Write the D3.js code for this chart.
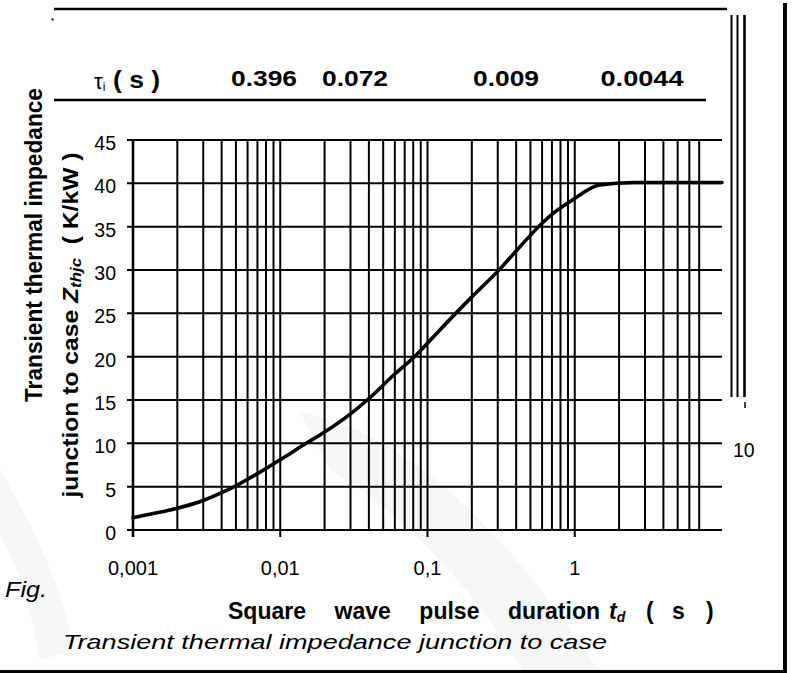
<!DOCTYPE html>
<html>
<head>
<meta charset="utf-8">
<script src="https://cdn.jsdelivr.net/npm/d3@7"></script>
<style>
  html, body { margin: 0; padding: 0; background: #fff; }
  svg { display: block; font-family: "Liberation Sans", Arial, Helvetica, sans-serif; }
</style>
</head>
<body>
<svg id="chart" width="793" height="673"></svg>
<script>
// Square wave pulse duration t_d (s) and transient thermal impedance Zthjc (K/kW)
const pulseDuration = [0.001, 0.0012, 0.002, 0.003, 0.004, 0.005, 0.007, 0.01, 0.015, 0.02,
                       0.03, 0.039, 0.06, 0.084, 0.12, 0.2, 0.31, 0.42, 0.6, 0.71, 0.97, 1.47, 2.5, 10];
const impedance = [1.4, 1.7, 2.5, 3.4, 4.3, 5.1, 6.5, 8.1, 10.0, 11.3,
                   13.4, 15.0, 18.0, 20.2, 23.0, 26.9, 30.1, 32.6, 35.4, 36.5, 38.1, 39.8, 40.1, 40.1];

// Axis ticks
const yTicks = [0, 5, 10, 15, 20, 25, 30, 35, 40, 45];
const xDecades = [0.001, 0.01, 0.1, 1];
const xTickLabels = ["0,001", "0,01", "0,1", "1"];

// Thermal time constants tau_i (s)
const tauValues = ["0.396", "0.072", "0.009", "0.0044"];

const svg = d3.select("#chart");
const H = 673;

const x = d3.scaleLog().domain([0.001, 10]).range([133, 722]);
const y = d3.scaleLinear().domain([0, 45]).range([530, 140]);

// faint background watermark swooshes
const wm = svg.append("g").attr("fill", "#f5f6f6").attr("stroke", "none");
wm.append("path").attr("d",
  "M300,412 C400,430 500,520 600,673 L525,673 C470,585 410,520 330,470 Z");
wm.append("path").attr("d", "M0,470 C30,520 60,580 75,650 L40,660 C30,600 15,560 0,535 Z");

// horizontal grid lines (start a tick length left of the axis)
svg.append("g").selectAll("line").data(yTicks).join("line")
  .attr("x1", x(0.001) - 6).attr("x2", x(10))
  .attr("y1", d => y(d)).attr("y2", d => y(d))
  .attr("stroke", "#000").attr("stroke-width", 2);

// vertical grid lines on the log scale (last decade drawn up to 7 s)
const vLines = x.ticks().filter(v => v < 7.5);
svg.append("g").selectAll("line").data(vLines).join("line")
  .attr("x1", d => x(d)).attr("x2", d => x(d))
  .attr("y1", y(45))
  .attr("y2", d => xDecades.some(v => Math.abs(v - d) / v < 1e-6) ? y(0) + 7 : y(0))
  .attr("stroke", "#000")
  .attr("stroke-width", d => d === 0.001 ? 2.6 : 2);

// y tick labels
svg.append("g").selectAll("text").data(yTicks).join("text")
  .attr("x", 116).attr("y", d => y(d) + 3)
  .attr("text-anchor", "end").attr("dominant-baseline", "central")
  .attr("font-size", 19.5).attr("fill", "#000")
  .text(d => d);

// x tick labels
svg.append("g").selectAll("text").data(xDecades).join("text")
  .attr("x", d => x(d)).attr("y", 575)
  .attr("text-anchor", "middle").attr("font-size", 20).attr("fill", "#000")
  .text((d, i) => xTickLabels[i]);

// impedance curve
const line = d3.line()
  .x(d => x(d[0])).y(d => y(d[1]))
  .curve(d3.curveMonotoneX);
svg.append("path")
  .datum(pulseDuration.map((t, i) => [t, impedance[i]]))
  .attr("d", line)
  .attr("fill", "none").attr("stroke", "#000")
  .attr("stroke-width", 3.6).attr("stroke-linejoin", "round").attr("stroke-linecap", "round");

// y axis titles
svg.append("text")
  .attr("transform", "translate(42,245) rotate(-90)")
  .attr("text-anchor", "middle").attr("font-size", 23).attr("font-weight", "bold")
  .attr("textLength", 314).attr("lengthAdjust", "spacingAndGlyphs")
  .text("Transient thermal impedance");

const yt2 = svg.append("text")
  .attr("transform", "translate(78,325) rotate(-90)")
  .attr("text-anchor", "middle").attr("font-size", 22).attr("font-weight", "bold")
  .attr("textLength", 345).attr("lengthAdjust", "spacingAndGlyphs")
  .attr("xml:space", "preserve");
yt2.append("tspan").text("junction to case ");
yt2.append("tspan").attr("font-style", "italic").text("Z");
yt2.append("tspan").attr("font-style", "italic").attr("font-size", 15).attr("dy", 3).text("thjc");
yt2.append("tspan").attr("dy", -3).text("  ( K/kW )");

// tau header row
svg.append("line").attr("x1", 54).attr("x2", 727).attr("y1", 9).attr("y2", 9)
  .attr("stroke", "#000").attr("stroke-width", 2.6);
svg.append("rect").attr("x", 51.5).attr("y", 18.5).attr("width", 2).attr("height", 2).attr("fill", "#000");
svg.append("line").attr("x1", 54).attr("x2", 706).attr("y1", 100).attr("y2", 100)
  .attr("stroke", "#000").attr("stroke-width", 2.6);

const tauSym = svg.append("text").attr("x", 94).attr("y", 89).attr("font-size", 22);
tauSym.append("tspan").text("τ");
tauSym.append("tspan").attr("font-size", 12).attr("dy", 2).text("i");
svg.append("text").attr("x", 113).attr("y", 88)
  .attr("font-size", 23).attr("font-weight", "bold")
  .attr("textLength", 47).attr("lengthAdjust", "spacingAndGlyphs")
  .attr("xml:space", "preserve").text("( s )");

const tauColumnX = [264, 355, 506, 642];
svg.append("g").selectAll("text").data(tauValues).join("text")
  .attr("x", (d, i) => tauColumnX[i]).attr("y", 86)
  .attr("text-anchor", "middle").attr("font-size", 22).attr("font-weight", "bold")
  .attr("textLength", d => d.length === 6 ? 83 : 66).attr("lengthAdjust", "spacingAndGlyphs")
  .text(d => d);

// right-hand scale fragment
svg.append("g").selectAll("line").data([731.5, 737.5, 744.5]).join("line")
  .attr("x1", d => d).attr("x2", d => d).attr("y1", 15).attr("y2", 397)
  .attr("stroke", "#000").attr("stroke-width", (d, i) => i === 2 ? 2.6 : 2);
svg.append("line").attr("x1", 745).attr("x2", 745).attr("y1", 402).attr("y2", 408)
  .attr("stroke", "#000").attr("stroke-width", 1.5);
svg.append("text").attr("x", 733).attr("y", y(10) + 7).attr("dominant-baseline", "central")
  .attr("font-size", 19.5).text("10");

// x axis title: words spread evenly between the left edge and "duration" end
const xTitleWords = ["Square", "wave", "pulse", "duration"];
const xt = svg.append("g").attr("font-size", 23).attr("font-weight", "bold");
const wordNodes = xt.selectAll("text.w").data(xTitleWords).join("text")
  .attr("class", "w").attr("y", 619).text(d => d);
const widths = wordNodes.nodes().map(n => n.getComputedTextLength());
const startX = 228, endX = 600;
const gap = (endX - startX - d3.sum(widths)) / (xTitleWords.length - 1);
let cx = startX;
wordNodes.attr("x", (d, i) => { const v = cx; cx += widths[i] + gap; return v; });
const td = xt.append("text").attr("x", 609).attr("y", 619);
td.append("tspan").attr("font-style", "italic").text("t");
td.append("tspan").attr("font-style", "italic").attr("font-size", 14).attr("dy", 3).text("d");
xt.append("text").attr("x", 646).attr("y", 619).text("(");
xt.append("text").attr("x", 672).attr("y", 619).text("s");
xt.append("text").attr("x", 706).attr("y", 619).text(")");

// figure caption
svg.append("text").attr("x", 5).attr("y", 597)
  .attr("font-size", 22).attr("font-style", "italic")
  .attr("textLength", 42).attr("lengthAdjust", "spacingAndGlyphs")
  .text("Fig.");
svg.append("text").attr("x", 63).attr("y", 649)
  .attr("font-size", 21).attr("font-style", "italic")
  .attr("textLength", 544).attr("lengthAdjust", "spacingAndGlyphs")
  .text("Transient thermal impedance junction to case");

// page frame: thick right rule and bottom rule
svg.append("line").attr("x1", 785).attr("x2", 785).attr("y1", 3).attr("y2", H)
  .attr("stroke", "#000").attr("stroke-width", 4);
svg.append("line").attr("x1", 0).attr("x2", 787).attr("y1", 671.5).attr("y2", 671.5)
  .attr("stroke", "#000").attr("stroke-width", 3);
</script>
</body>
</html>
